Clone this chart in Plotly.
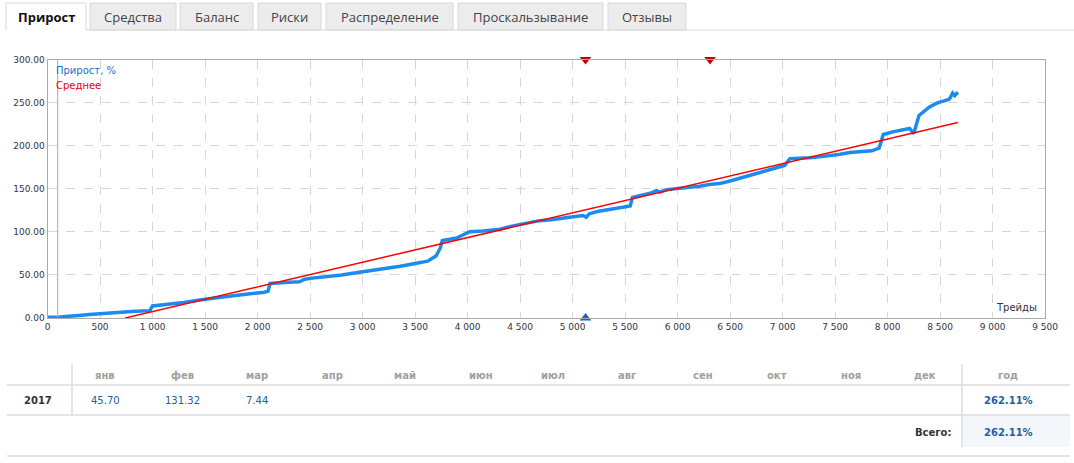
import plotly.graph_objects as go

W, H = 1074, 463

# ---------------- data ----------------
tabs = ["Прирост", "Средства", "Баланс", "Риски", "Распределение", "Проскальзывание", "Отзывы"]

trades = [0, 60, 100, 200, 260, 300, 400, 450, 500, 600, 690, 800, 900, 975, 1000, 1100, 1200, 1300,
          1450, 1550, 1650, 1750, 1830, 1950, 2050, 2100, 2120, 2200, 2300, 2400, 2450, 2500, 2600,
          2700, 2800, 2970, 3100, 3200, 3300, 3360, 3450, 3550, 3620, 3700, 3740, 3760, 3850, 3900,
          3950, 4020, 4150, 4310, 4400, 4500, 4600, 4690, 4800, 4970, 5050, 5100, 5130, 5160, 5250,
          5350, 5450, 5550, 5570, 5650, 5750, 5800, 5830, 5900, 6000, 6100, 6210, 6300, 6400, 6500,
          6590, 6680, 6780, 6900, 7020, 7070, 7150, 7260, 7350, 7450, 7550, 7640, 7750, 7850, 7920,
          7960, 8050, 8150, 8210, 8250, 8280, 8300, 8400, 8480, 8540, 8590, 8620, 8640, 8670]
growth = [1, 0.5, 1, 2, 2, 3, 4, 4.5, 5, 5.5, 7, 7.5, 8, 8.5, 14, 15, 17, 18,
          21, 22, 24, 25.5, 27, 28.5, 29.5, 31, 40, 41, 41.5, 42, 45, 46, 47,
          49, 50, 53, 55, 57, 59, 60, 62, 64, 66, 72, 81, 90, 92, 93,
          96, 100, 101, 103, 106, 108, 111, 113, 114, 117, 118, 119, 117, 121, 124,
          126, 128, 130, 140, 142, 145, 148, 146, 149, 150, 151, 153, 155, 156, 159,
          162, 165, 169, 172, 177, 185, 185, 186, 187, 188, 190, 192, 193, 194, 197,
          213, 216, 218, 220, 214, 225, 235, 245, 250, 252, 254, 261, 258, 262]

mean_x = [740, 8670]
mean_y = [0, 227]

top_marks_x = [5124, 6310]
bottom_marks_x = [5124]
start_line_x = 97

x_ticks = list(range(0, 9501, 500))
x_ticktext = ["0" if v == 0 else (f"{v // 1000} {v % 1000:03d}" if v >= 1000 else str(v)) for v in x_ticks]
y_ticks = [0, 50, 100, 150, 200, 250, 300]

months = ["янв", "фев", "мар", "апр", "май", "июн", "июл", "авг", "сен", "окт", "ноя", "дек"]
month_vals = ["45.70", "131.32", "7.44", "", "", "", "", "", "", "", "", ""]
year = "2017"
year_total = "262.11%"
grand_total = "262.11%"

# ---------------- helpers ----------------
def px(x):
    return x / W

def py(y):
    return (H - y) / H

BLUE = "#1a8cf0"
RED = "#ff0000"
GRID = "#d6d6d6"
TXT = "#333344"

fig = go.Figure()

fig.add_trace(go.Scatter(x=trades, y=growth, mode="lines",
                         line=dict(color=BLUE, width=3.5), hoverinfo="skip"))
fig.add_trace(go.Scatter(x=mean_x, y=mean_y, mode="lines",
                         line=dict(color=RED, width=1.5), hoverinfo="skip"))
fig.add_trace(go.Scatter(x=top_marks_x, y=[300] * len(top_marks_x), mode="markers",
                         marker=dict(symbol="triangle-down", size=10, color="#c00000"),
                         cliponaxis=False, hoverinfo="skip"))
fig.add_trace(go.Scatter(x=bottom_marks_x, y=[0] * len(bottom_marks_x), mode="markers",
                         marker=dict(symbol="triangle-up", size=10, color="#1565c0"),
                         cliponaxis=False, hoverinfo="skip"))

shapes = []
annotations = []

# vertical start line
shapes.append(dict(type="line", xref="x", yref="y", x0=start_line_x, x1=start_line_x, y0=0, y1=300,
                   line=dict(color="#aaaaaa", width=1), layer="above"))

# ---------------- tabs ----------------
tab_x = [(6, 86), (90, 176), (180, 253), (258, 321), (326, 453), (458, 603), (608, 686)]
for i, (t, (a, b)) in enumerate(zip(tabs, tab_x)):
    active = i == 0
    shapes.append(dict(type="rect", xref="paper", yref="paper", x0=px(a), x1=px(b), y0=py(30), y1=py(3),
                       fillcolor="#ffffff" if active else "#ececec",
                       line=dict(color="#d9d9d9", width=1), layer="below"))
    annotations.append(dict(xref="paper", yref="paper", x=px((a + b) / 2), y=py(16.5), text=f"<b>{t}</b>" if active else t,
                            showarrow=False, xanchor="center", yanchor="middle",
                            font=dict(family="Open Sans", size=13, color="#111111" if active else "#444444")))
shapes.append(dict(type="line", xref="paper", yref="paper", x0=px(86), x1=px(1074), y0=py(30), y1=py(30),
                   line=dict(color="#d9d9d9", width=1)))
shapes.append(dict(type="line", xref="paper", yref="paper", x0=px(6.5), x1=px(85.5), y0=py(30), y1=py(30),
                   line=dict(color="#ffffff", width=2)))

# legend texts
annotations.append(dict(xref="paper", yref="paper", x=px(54), y=py(70), text="Прирост, %", showarrow=False,
                        xanchor="left", yanchor="middle", font=dict(family="DejaVu Sans", size=10, color="#1a6fd0")))
annotations.append(dict(xref="paper", yref="paper", x=px(54), y=py(86), text="Среднее", showarrow=False,
                        xanchor="left", yanchor="middle", font=dict(family="DejaVu Sans", size=10, color="#ee0000")))
annotations.append(dict(xref="paper", yref="paper", x=px(1039), y=py(308), text="Трейды", showarrow=False,
                        xanchor="right", yanchor="middle", font=dict(family="DejaVu Sans", size=10, color=TXT)))

# ---------------- table ----------------
LINE = "#dddddd"
month_cx = [105, 182, 257, 332, 405, 481, 553, 627, 703, 777, 851, 925]
shapes.append(dict(type="rect", xref="paper", yref="paper", x0=px(963), x1=px(1070), y0=py(447), y1=py(416),
                   fillcolor="#f3f6fb", line=dict(width=0), layer="below"))
for yy in (385, 415, 456):
    shapes.append(dict(type="line", xref="paper", yref="paper", x0=px(7), x1=px(1070), y0=py(yy), y1=py(yy),
                       line=dict(color=LINE, width=1.5)))
shapes.append(dict(type="line", xref="paper", yref="paper", x0=px(72), x1=px(72), y0=py(364), y1=py(415),
                   line=dict(color=LINE, width=1.5)))
shapes.append(dict(type="line", xref="paper", yref="paper", x0=px(962), x1=px(962), y0=py(364), y1=py(447),
                   line=dict(color=LINE, width=1.5)))

TFONT = "DejaVu Sans"
for m, v, cx in zip(months, month_vals, month_cx):
    annotations.append(dict(xref="paper", yref="paper", x=px(cx), y=py(375), text=f"<b>{m}</b>", showarrow=False,
                            xanchor="center", yanchor="middle", font=dict(family=TFONT, size=10, color="#a0a0a0")))
    if v:
        annotations.append(dict(xref="paper", yref="paper", x=px(cx), y=py(400), text=v, showarrow=False,
                                xanchor="center", yanchor="middle", font=dict(family=TFONT, size=10, color="#1e5fa0")))
annotations.append(dict(xref="paper", yref="paper", x=px(1008), y=py(375), text="<b>год</b>", showarrow=False,
                        xanchor="center", yanchor="middle", font=dict(family=TFONT, size=10, color="#a0a0a0")))
annotations.append(dict(xref="paper", yref="paper", x=px(38), y=py(400), text=f"<b>{year}</b>", showarrow=False,
                        xanchor="center", yanchor="middle", font=dict(family=TFONT, size=10, color="#333333")))
annotations.append(dict(xref="paper", yref="paper", x=px(1008), y=py(400), text=f"<b>{year_total}</b>", showarrow=False,
                        xanchor="center", yanchor="middle", font=dict(family=TFONT, size=10, color="#1e5fa0")))
annotations.append(dict(xref="paper", yref="paper", x=px(953), y=py(432), text="<b>Всего:</b>", showarrow=False,
                        xanchor="right", yanchor="middle", font=dict(family=TFONT, size=10, color="#333333")))
annotations.append(dict(xref="paper", yref="paper", x=px(1008), y=py(432), text=f"<b>{grand_total}</b>", showarrow=False,
                        xanchor="center", yanchor="middle", font=dict(family=TFONT, size=10, color="#1e5fa0")))

fig.update_layout(
    template="none",
    width=W, height=H,
    margin=dict(l=0, r=0, t=0, b=0, pad=0),
    paper_bgcolor="white", plot_bgcolor="white",
    showlegend=False,
    shapes=shapes, annotations=annotations,
    xaxis=dict(domain=[px(47.5), px(1045)], range=[0, 9500], tickvals=x_ticks, ticktext=x_ticktext,
               automargin=False,
               showgrid=True, gridcolor=GRID, griddash="dash", gridwidth=1,
               showline=True, linecolor="#aaaaaa", linewidth=1, mirror=True, zeroline=False,
               ticks="", tickfont=dict(family="DejaVu Sans", size=9, color=TXT), fixedrange=True),
    yaxis=dict(domain=[py(318), py(59.5)], range=[0, 300], tickvals=y_ticks, tickformat=".2f",
               automargin=False,
               showgrid=True, gridcolor=GRID, griddash="dash", gridwidth=1,
               showline=True, linecolor="#aaaaaa", linewidth=1, mirror=True, zeroline=False,
               ticks="", tickfont=dict(family="DejaVu Sans", size=9, color=TXT), fixedrange=True),
)

fig.write_html("out.html", config={"displayModeBar": False})
